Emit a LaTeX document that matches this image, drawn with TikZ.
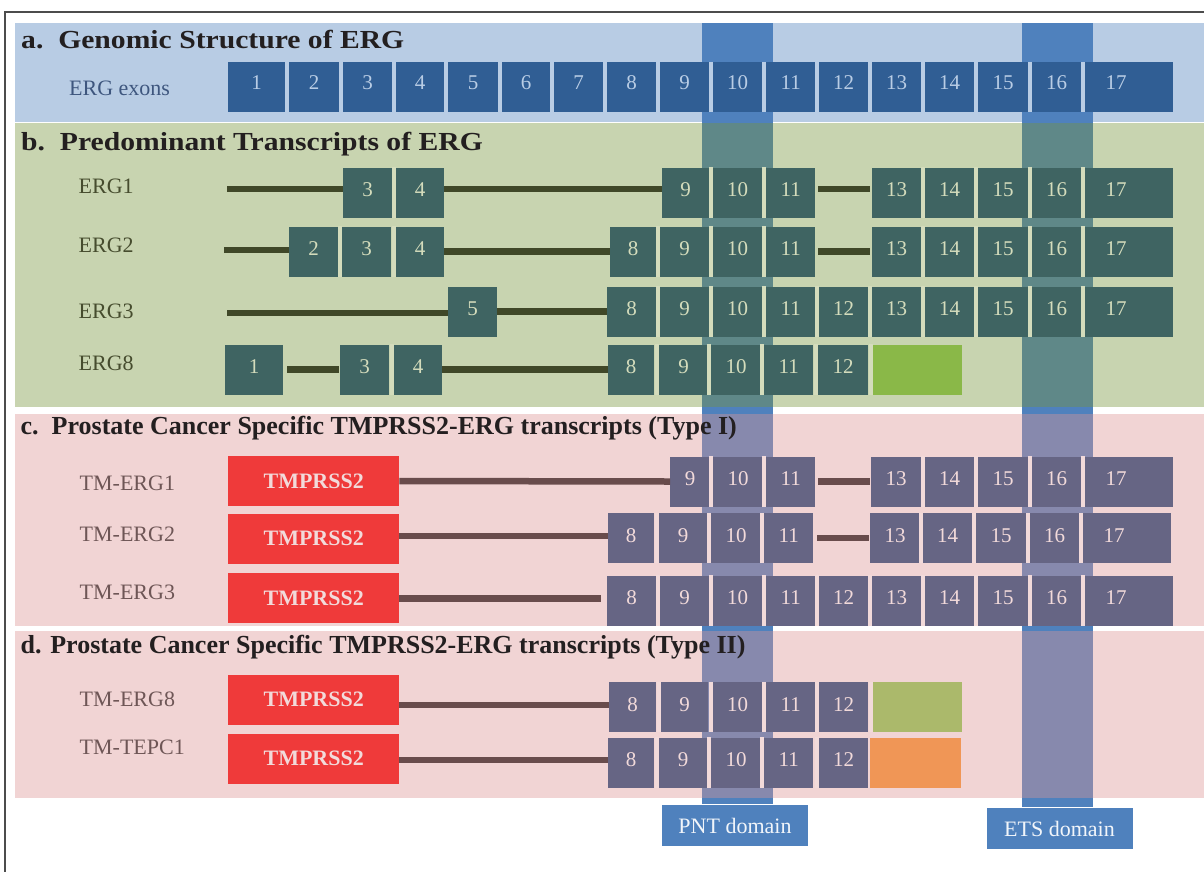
\documentclass[tikz,border=0pt]{standalone}
\usepackage{fontspec}
\setmainfont{Liberation Serif}

\definecolor{bandblue}{RGB}{79,129,189}
\definecolor{secB}{RGB}{119,148,58}
\definecolor{secC}{RGB}{221,149,149}
\definecolor{exA}{RGB}{48,94,148}
\definecolor{txA}{RGB}{185,205,229}
\definecolor{lbA}{RGB}{62,86,126}
\definecolor{exB}{RGB}{63,100,98}
\definecolor{txB}{RGB}{212,220,188}
\definecolor{lnB}{RGB}{64,72,40}
\definecolor{lbB}{RGB}{70,76,46}
\definecolor{exC}{RGB}{102,101,132}
\definecolor{txC}{RGB}{242,218,218}
\definecolor{lnC}{RGB}{105,76,76}
\definecolor{lbC}{RGB}{110,86,86}
\definecolor{headtxt}{RGB}{35,31,32}
\definecolor{tmred}{RGB}{239,58,58}
\definecolor{greenend}{RGB}{138,184,72}
\definecolor{olivend}{RGB}{171,185,107}
\definecolor{orangeend}{RGB}{240,150,86}

% exon number, the wide last exon keeps its number left of centre
\newcommand{\exnum}[2]{\ifnum#1=17\hspace*{-26pt}\fi\raisebox{#2}{#1}}

\tikzset{
  header/.style={anchor=base west, inner sep=0pt, text=headtxt, font=\fontsize{26}{26}\selectfont\bfseries},
  rowlabel/.style={anchor=base west, inner sep=0pt, font=\fontsize{22}{22}\selectfont},
  exon/.style={anchor=west, inner sep=0pt, minimum height=50pt, font=\fontsize{21}{21}\selectfont},
  exonA/.style={exon, fill=exA, text=txA},
  exonB/.style={exon, fill=exB, text=txB},
  exonC/.style={exon, fill=exC, text=txC},
  sepA/.style={draw=txA, line width=3.5pt},
  sepB/.style={draw=txB, line width=3.5pt},
  sepC/.style={draw=txC, line width=3.5pt},
  intronB/.style={draw=lnB, line width=6.5pt},
  intronC/.style={draw=lnC, line width=6.5pt},
  tmbox/.style={anchor=west, fill=tmred, text=txC, minimum width=171pt, minimum height=50pt, inner sep=0pt, font=\fontsize{22}{22}\selectfont\bfseries},
  domainbox/.style={fill=bandblue, text=white!92!bandblue, minimum width=146pt, minimum height=41pt, inner sep=0pt, font=\fontsize{22}{22}\selectfont}
}

\begin{document}
\begin{tikzpicture}[x=1pt, y=-1pt]
    \useasboundingbox (0,0) rectangle (1204,871);
    \fill[white] (0,0) rectangle (1204,871);
    \draw[gray!60!black, line width=1.2pt] (5,12) rectangle (1230,900);

    % domain bands, behind the panels
    \fill[bandblue] (702,23) rectangle (773,804);
    \fill[bandblue] (1022,23) rectangle (1093,807);

    % panels
    \fill[bandblue, fill opacity=0.4] (15,23) rectangle (1204,121.7);
    \fill[secB, fill opacity=0.4] (15,123) rectangle (1204,407);
    \fill[secC, fill opacity=0.4] (15,413.5) rectangle (1204,625.7);
    \fill[secC, fill opacity=0.4] (15,631) rectangle (1204,798.3);

    \node[header] (ha) at (21,48) {\scalebox{1.14}[1]{a.\ \ Genomic Structure of ERG}};
    \node[header] (hb) at (21,150.5) {\scalebox{1.14}[1]{b.\ \ Predominant Transcripts of ERG}};
    \node[header] (hc) at (20.5,434) {c.\ \ Prostate Cancer Specific TMPRSS2-ERG transcripts (Type I)};
    \node[header] (hd) at (20.5,653) {d. Prostate Cancer Specific TMPRSS2-ERG transcripts (Type II)};

    % a. exons
    \node[rowlabel, text=lbA] (labA) at (69,95) {ERG exons};
    \foreach \n/\l/\r/\s in {1/228/285/0, 2/289/339/1, 3/343/392/1, 4/396/444/1, 5/448/498/1, 6/502/550/1, 7/554/603/1, 8/607/656/1, 9/660/709/1, 10/713/762/1, 11/766/815/1, 12/819/868/1, 13/872/921/1, 14/925/974/1, 15/978/1028/1, 16/1032/1081/1, 17/1085/1173/1} {
        \node[exonA, minimum width={\r-\l}] (a\n) at (\l,87) {\exnum{\n}{8pt}};
        \ifnum\s=1 \draw[sepA] ([xshift=-2pt]a\n.north west) -- ([xshift=-2pt]a\n.south west); \fi
    }

    % b. transcripts
    \node[rowlabel, text=lbB] (labB1) at (78.5,193.3) {ERG1};
    \node[rowlabel, text=lbB] (labB2) at (78.5,252.3) {ERG2};
    \node[rowlabel, text=lbB] (labB3) at (78.5,318.3) {ERG3};
    \node[rowlabel, text=lbB] (labB8) at (78.5,370.7) {ERG8};

    \coordinate (erg1-start) at (227,189);
    \coordinate (erg2-start) at (224,250);
    \coordinate (erg3-start) at (227,313);

    \foreach \n/\l/\r/\s in {3/343/392/0, 4/396/444/1, 9/662/709/0, 10/713/762/1, 11/766/815/1, 13/872/921/0, 14/925/974/1, 15/978/1028/1, 16/1032/1081/1, 17/1085/1173/1} {
        \node[exonB, minimum width={\r-\l}] (erg1-\n) at (\l,192.5) {\exnum{\n}{5pt}};
        \ifnum\s=1 \draw[sepB] ([xshift=-2pt]erg1-\n.north west) -- ([xshift=-2pt]erg1-\n.south west); \fi
    }

    \foreach \n/\l/\r/\s in {2/289/338/0, 3/342/391/1, 4/396/444/1, 8/610/656/0, 9/660/709/1, 10/713/762/1, 11/766/815/1, 13/872/921/0, 14/925/974/1, 15/978/1028/1, 16/1032/1081/1, 17/1085/1173/1} {
        \node[exonB, minimum width={\r-\l}] (erg2-\n) at (\l,251.5) {\exnum{\n}{5pt}};
        \ifnum\s=1 \draw[sepB] ([xshift=-2pt]erg2-\n.north west) -- ([xshift=-2pt]erg2-\n.south west); \fi
    }

    \foreach \n/\l/\r/\s in {5/448/497/0, 8/607/656/0, 9/660/709/1, 10/713/762/1, 11/766/815/1, 12/819/868/1, 13/872/921/1, 14/925/974/1, 15/978/1028/1, 16/1032/1081/1, 17/1085/1173/1} {
        \node[exonB, minimum width={\r-\l}] (erg3-\n) at (\l,311.5) {\exnum{\n}{5pt}};
        \ifnum\s=1 \draw[sepB] ([xshift=-2pt]erg3-\n.north west) -- ([xshift=-2pt]erg3-\n.south west); \fi
    }

    \foreach \n/\l/\r/\s in {1/225/283/0, 3/340/389/0, 4/394/442/1, 8/608/654/0, 9/659/708/1, 10/711/761/1, 11/764/813/1, 12/818/868/1} {
        \node[exonB, minimum width={\r-\l}] (erg8-\n) at (\l,369.5) {\exnum{\n}{5pt}};
        \ifnum\s=1 \draw[sepB] ([xshift=-2pt]erg8-\n.north west) -- ([xshift=-2pt]erg8-\n.south west); \fi
    }
    \node[exon, fill=greenend, minimum width=89pt] (erg8-end) at (873,369.5) {};
    \draw[sepB] ([xshift=-2pt]erg8-end.north west) -- ([xshift=-2pt]erg8-end.south west);

    \draw[intronB] (erg1-start) -- (erg1-start -| erg1-3.west);
    \draw[intronB] (erg1-4.east |- erg1-start) -- (erg1-9.west |- erg1-start);
    \draw[intronB, shorten <=3pt, shorten >=2pt] (erg1-11.east |- erg1-start) -- (erg1-13.west |- erg1-start);
    \draw[intronB] (erg2-start) -- (erg2-start -| erg2-2.west);
    \draw[intronB] (erg2-4.east) -- (erg2-8.west);
    \draw[intronB, shorten <=3pt, shorten >=2pt] (erg2-11.east) -- (erg2-13.west);
    \draw[intronB] (erg3-start) -- (erg3-start -| erg3-5.west);
    \draw[intronB] (erg3-5.east) -- (erg3-8.west);
    \draw[intronB, shorten <=4pt, shorten >=1pt] (erg8-1.east) -- (erg8-3.west);
    \draw[intronB] (erg8-4.east) -- (erg8-8.west);

    % c. type I fusions
    \node[rowlabel, text=lbC] (labC1) at (79.5,490) {TM-ERG1};
    \node[rowlabel, text=lbC] (labC2) at (79.5,541.7) {TM-ERG2};
    \node[rowlabel, text=lbC] (labC3) at (79.5,599.3) {TM-ERG3};
    \node[tmbox] (tm1-tmp) at (228,481) {TMPRSS2};
    \node[tmbox] (tm2-tmp) at (228,538.5) {TMPRSS2};
    \node[tmbox] (tm3-tmp) at (228,598.3) {TMPRSS2};

    \foreach \n/\l/\r/\s in {9/670/710/0, 10/713/763/1, 11/766/815/1, 13/871/921/0, 14/925/974/1, 15/978/1028/1, 16/1032/1081/1, 17/1085/1173/1} {
        \node[exonC, minimum width={\r-\l}] (tm1-\n) at (\l,481.5) {\exnum{\n}{5pt}};
        \ifnum\s=1 \draw[sepC] ([xshift=-2pt]tm1-\n.north west) -- ([xshift=-2pt]tm1-\n.south west); \fi
    }
    \foreach \n/\l/\r/\s in {8/608/654/0, 9/659/707/1, 10/711/761/1, 11/764/813/1, 13/870/920/0, 14/923/972/1, 15/976/1026/1, 16/1030/1079/1, 17/1083/1171/1} {
        \node[exonC, minimum width={\r-\l}] (tm2-\n) at (\l,538) {\exnum{\n}{5pt}};
        \ifnum\s=1 \draw[sepC] ([xshift=-2pt]tm2-\n.north west) -- ([xshift=-2pt]tm2-\n.south west); \fi
    }
    \foreach \n/\l/\r/\s in {8/607/656/0, 9/660/709/1, 10/713/762/1, 11/766/815/1, 12/819/868/1, 13/872/921/1, 14/925/974/1, 15/978/1028/1, 16/1032/1081/1, 17/1085/1173/1} {
        \node[exonC, minimum width={\r-\l}] (tm3-\n) at (\l,600.5) {\exnum{\n}{5pt}};
        \ifnum\s=1 \draw[sepC] ([xshift=-2pt]tm3-\n.north west) -- ([xshift=-2pt]tm3-\n.south west); \fi
    }

    \draw[intronC] (tm1-tmp.east) -- (tm1-9.west);
    \draw[intronC, shorten <=3pt, shorten >=1pt] (tm1-11.east) -- (tm1-13.west);
    \draw[intronC] (tm2-tmp.east |- 0,536) -- (tm2-8.west |- 0,536);
    \draw[intronC, shorten <=4pt, shorten >=1pt] (tm2-11.east) -- (tm2-13.west);
    \draw[intronC, shorten >=6pt] (tm3-tmp.east) -- (tm3-8.west |- tm3-tmp.east);

    % d. type II fusions
    \node[rowlabel, text=lbC] (labD8) at (79.5,706) {TM-ERG8};
    \node[rowlabel, text=lbC] (labDT) at (79.5,754.3) {TM-TEPC1};
    \node[tmbox] (tm8-tmp) at (228,699.5) {TMPRSS2};
    \node[tmbox] (tepc-tmp) at (228,758.5) {TMPRSS2};

    \foreach \n/\l/\r/\s in {8/609/656/0, 9/661/708/1, 10/713/762/1, 11/766/815/1, 12/819/868/1} {
        \node[exonC, minimum width={\r-\l}] (tm8-\n) at (\l,707) {\exnum{\n}{5pt}};
        \ifnum\s=1 \draw[sepC] ([xshift=-2pt]tm8-\n.north west) -- ([xshift=-2pt]tm8-\n.south west); \fi
    }
    \node[exon, fill=olivend, minimum width=89pt] (tm8-end) at (873,707) {};
    \draw[sepC] ([xshift=-2pt]tm8-end.north west) -- ([xshift=-2pt]tm8-end.south west);

    \foreach \n/\l/\r/\s in {8/608/654/0, 9/659/707/1, 10/711/761/1, 11/764/813/1, 12/819/868/1} {
        \node[exonC, minimum width={\r-\l}] (tepc-\n) at (\l,762.5) {\exnum{\n}{5pt}};
        \ifnum\s=1 \draw[sepC] ([xshift=-2pt]tepc-\n.north west) -- ([xshift=-2pt]tepc-\n.south west); \fi
    }
    \node[exon, fill=orangeend, minimum width=91pt] (tepc-end) at (870,762.5) {};

    \draw[intronC] (tm8-tmp.east |- 0,705) -- (tm8-8.west |- 0,705);
    \draw[intronC] (tepc-tmp.east |- 0,760) -- (tepc-8.west |- 0,760);

    % domain labels
    \node[domainbox] (pnt) at (735,825.5) {PNT domain};
    \node[domainbox] (ets) at (1059.5,828.5) {ETS domain};
\end{tikzpicture}
\end{document}
